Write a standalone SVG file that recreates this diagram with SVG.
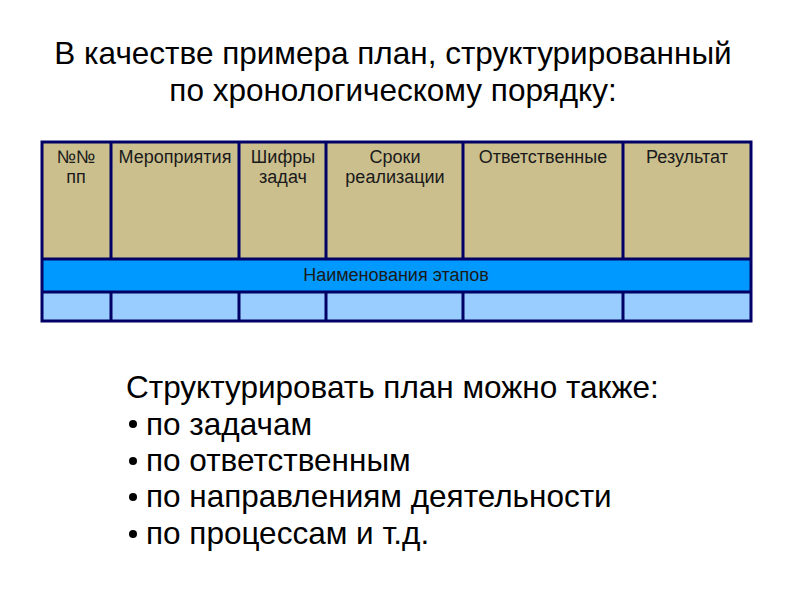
<svg xmlns="http://www.w3.org/2000/svg" width="794" height="595" viewBox="0 0 794 595">
<style>
text{font-family:"Liberation Sans",Arial,sans-serif;fill:#000}
.t{font-size:31.5px}
.h{font-size:18px;fill:#1a1a1a}
.b{font-size:31.5px}
.ln{stroke:#000066;stroke-width:3;fill:none}
</style>
<rect width="794" height="595" fill="#fff"/>
<g id="title">
<text class="t" x="393" y="64" text-anchor="middle">В качестве примера  план, структурированный</text>
<text class="t" x="393" y="101" text-anchor="middle">по хронологическому порядку:</text>
</g>
<g id="table">
<rect x="42" y="142" width="709" height="117" fill="#cbbf8e"/>
<rect x="42" y="259" width="709" height="33" fill="#0099ff"/>
<rect x="42" y="292" width="709" height="29" fill="#99ccff"/>
<rect x="42" y="142" width="709" height="179" class="ln"/>
<path class="ln" d="M42 259H751M42 292H751M111 142V259M239 142V259M326 142V259M463 142V259M623 142V259M111 292V321M239 292V321M326 292V321M463 292V321M623 292V321"/>
<text class="h" x="76" y="163" text-anchor="middle">№№</text>
<text class="h" x="76" y="183" text-anchor="middle">пп</text>
<text class="h" x="175" y="163" text-anchor="middle">Мероприятия</text>
<text class="h" x="283" y="163" text-anchor="middle">Шифры</text>
<text class="h" x="283" y="183" text-anchor="middle">задач</text>
<text class="h" x="395" y="163" text-anchor="middle">Сроки</text>
<text class="h" x="395" y="183" text-anchor="middle">реализации</text>
<text class="h" x="543" y="163" text-anchor="middle">Ответственные</text>
<text class="h" x="687" y="163" text-anchor="middle">Результат</text>
<text class="h" x="396" y="281" text-anchor="middle">Наименования этапов</text>
</g>
<g id="list">
<text class="b" x="126" y="398">Структурировать план можно также:</text>
<circle cx="133" cy="424" r="4"/><text class="b" x="146" y="435">по задачам</text>
<circle cx="133" cy="461" r="4"/><text class="b" x="146" y="471">по ответственным</text>
<circle cx="133" cy="497" r="4"/><text class="b" x="146" y="507">по направлениям деятельности</text>
<circle cx="133" cy="534" r="4"/><text class="b" x="146" y="544">по процессам и т.д.</text>
</g>
</svg>
